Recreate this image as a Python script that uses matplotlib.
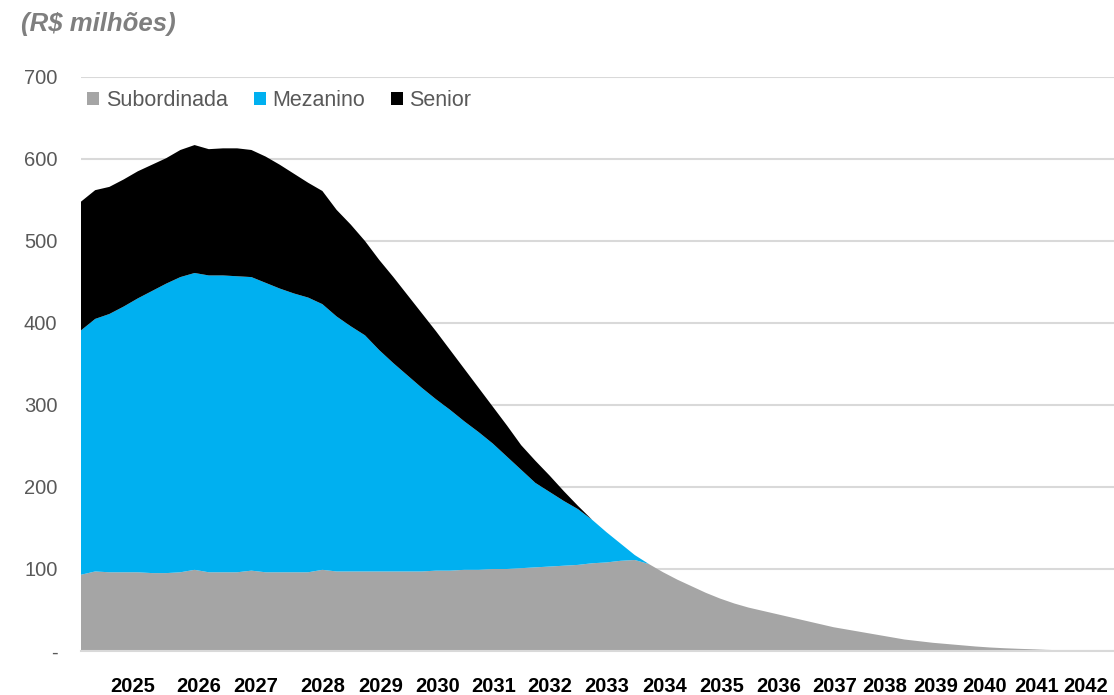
import numpy as np
import matplotlib
matplotlib.use("Agg")
import matplotlib.pyplot as plt
from matplotlib.patches import Patch

plt.rcParams["font.family"] = ["Liberation Sans", "DejaVu Sans"]

# quarterly periods of the amortisation schedule (R$ milhões)
subordinada = [93, 97, 96, 96, 96, 95, 95, 96, 99, 96,
               96, 96, 98, 96, 96, 96, 96, 99, 97, 97,
               97, 97, 97, 97, 97, 98, 98, 99, 99, 100,
               100, 101, 102, 103, 104, 105, 107, 108, 110, 111,
               106, 96, 87, 79, 71, 64, 58, 53, 49, 45,
               41, 37, 33, 29, 26, 23, 20, 17, 14, 12,
               10, 8.5, 7, 5.5, 4.3, 3.4, 2.7, 2.1, 1.4, 0.9,
               0.6, 0.3]
mezanino = [298, 308, 315, 324, 334, 344, 353, 360, 362, 362,
            362, 361, 358, 353, 346, 340, 335, 324, 311, 299,
            288, 270, 254, 239, 224, 209, 196, 181, 168, 153,
            137, 120, 103, 91, 79, 68, 53, 37, 21, 6,
            0, 0, 0, 0, 0, 0, 0, 0, 0, 0,
            0, 0, 0, 0, 0, 0, 0, 0, 0, 0,
            0, 0, 0, 0, 0, 0, 0, 0, 0, 0,
            0, 0]
senior = [157, 157, 155, 155, 155, 154, 153, 155, 156, 154,
          155, 156, 155, 154, 151, 146, 140, 138, 130, 124,
          115, 110, 105, 98, 91, 83, 73, 64, 54, 45,
          38, 30, 27, 20, 12, 4, 0, 0, 0, 0,
          0, 0, 0, 0, 0, 0, 0, 0, 0, 0,
          0, 0, 0, 0, 0, 0, 0, 0, 0, 0,
          0, 0, 0, 0, 0, 0, 0, 0, 0, 0,
          0, 0]

series_names = ["Subordinada", "Mezanino", "Senior"]
series_colors = ["#A5A5A5", "#00B0F0", "#000000"]

year_labels = [str(y) for y in range(2025, 2043)]
year_pos = [3.66, 8.31, 12.31, 17.04, 21.13, 25.1, 29.05, 33.01, 37.04,
            41.11, 45.14, 49.15, 53.1, 56.58, 60.21, 63.66, 67.3, 70.76]

x = np.arange(len(subordinada))

fig = plt.figure(figsize=(11.14, 6.95), dpi=100)
ax = fig.add_axes([81 / 1114, 1 - 651 / 695, 1 - 81 / 1114, (651 - 77) / 695])

ax.stackplot(x, subordinada, mezanino, senior,
             colors=series_colors, linewidth=0, zorder=2)

ax.set_xlim(0, 72.75)
ax.set_ylim(0, 700)
ax.set_yticks(range(0, 701, 100))
ax.set_yticklabels(["-"] + [str(v) for v in range(100, 701, 100)])
ax.set_xticks(year_pos)
ax.set_xticklabels(year_labels, fontweight="bold")
ax.tick_params(axis="y", length=0, pad=17, labelsize=14.5, labelcolor="#595959")
ax.tick_params(axis="x", length=0, pad=19, labelsize=14.5, labelcolor="black")

ax.grid(axis="y", color="#D9D9D9", linewidth=1.5, zorder=0)
ax.set_axisbelow(True)
for side in ["top", "right", "left"]:
    ax.spines[side].set_visible(False)
ax.spines["bottom"].set_color("#D9D9D9")
ax.spines["bottom"].set_linewidth(1.5)

handles = [Patch(facecolor=c, edgecolor="none") for c in series_colors]
ax.legend(handles, series_names, loc="upper left", bbox_to_anchor=(-0.0085, 1.003),
          ncol=3, frameon=False, fontsize=15.5, labelcolor="#595959",
          handlelength=0.56, handleheight=0.56, handletextpad=0.3,
          columnspacing=1.2, borderaxespad=0.3)

fig.text(21 / 1114, 1 - 24 / 695, "(R$ milhões)", fontsize=18.5,
         fontweight="bold", fontstyle="italic", color="#7F7F7F",
         ha="left", va="center")

fig.savefig("out.png", dpi=100)
